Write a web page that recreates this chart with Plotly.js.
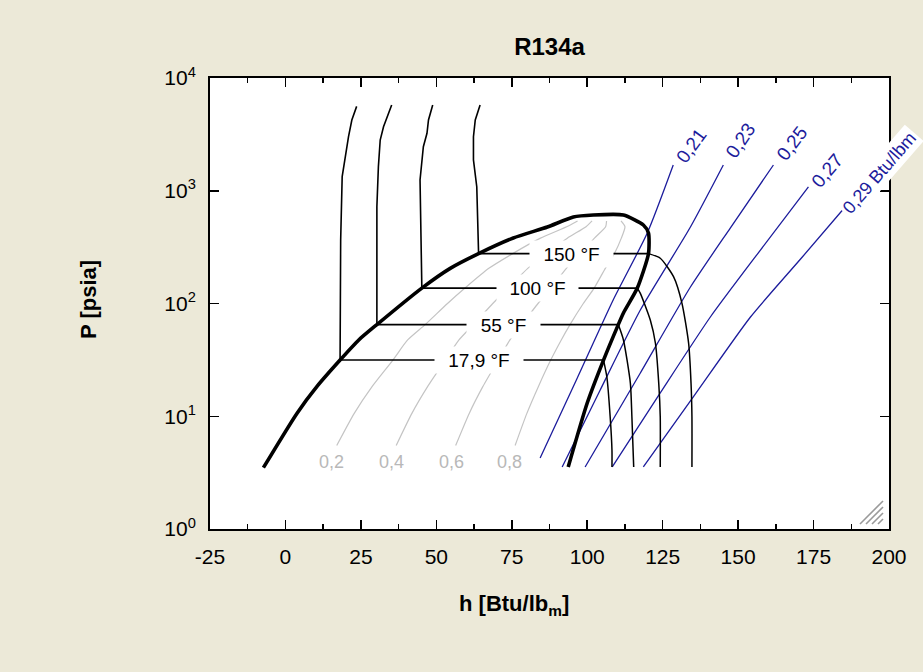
<!DOCTYPE html>
<html>
<head>
<meta charset="utf-8">
<script src="https://cdn.plot.ly/plotly-3.0.1.min.js"></script>
<style>
  html, body { margin: 0; padding: 0; background: #ece9d8; }
  #chart { width: 923px; height: 672px; }
</style>
</head>
<body>
<div id="chart"></div>
<script>
// R134a pressure-enthalpy chart: h in Btu/lbm, P in psia (log scale)

// Saturation dome: liquid line up to the critical region, then the vapour line back down
const domeH = [-7.3, 3.8, 10.4, 18.1, 24.3, 30.3, 45.2, 54.6, 64.0, 75.5, 86.8, 95.4, 102.0, 112.0, 118.6, 120.3, 120.3, 116.6, 112.0, 110.3, 105.4, 100.0, 93.7];
const domeP = [3.5, 10.6, 18.3, 31.5, 47.5, 65, 137, 205, 277, 381, 477, 585, 609, 609, 497, 422, 277, 137, 82.4, 65, 31.5, 13.1, 3.55];

// Isotherms, liquid side: compressed liquid down to saturation, then across the two-phase plateau
const t179LiqH = [23.6, 22.0, 20.9, 19.8, 18.8, 18.3, 18.1, 105.4];
const t179LiqP = [5600, 4243, 3017, 1875, 1333, 366, 31.5, 31.5];
const t55LiqH = [35.2, 34.1, 32.5, 31.4, 30.8, 30.3, 30.3, 110.3];
const t55LiqP = [5763, 4863, 3700, 2819, 1634, 722, 65, 65];
const t100LiqH = [48.8, 47.4, 46.9, 45.7, 44.6, 45.2, 116.6];
const t100LiqP = [5763, 4243, 3233, 2459, 1245, 137, 137];
const t150LiqH = [64.5, 62.9, 62.3, 62.3, 63.4, 64.0, 120.3];
const t150LiqP = [5763, 4243, 3017, 1875, 1086, 277, 277];
// Isotherms, superheated vapour side: from the saturated vapour point downwards
const t179VapH = [105.4, 106.5, 107.6, 108.2, 108.2];
const t179VapP = [31.5, 22.4, 9.9, 5.0, 3.55];
const t55VapH = [110.3, 112.0, 114.3, 114.8, 115.4];
const t55VapP = [65, 47.5, 19.6, 9.9, 3.55];
const t100VapH = [116.6, 117.6, 120.9, 122.6, 123.7, 124.2, 124.2];
const t100VapP = [137, 123, 71.4, 44.4, 19.6, 9.9, 3.55];
const t150VapH = [120.3, 124.2, 128.6, 131.4, 133.6, 134.4, 134.7, 134.7];
const t150VapP = [277, 252, 173, 100.4, 44.4, 19.6, 9.9, 3.55];
const isoLabels = ['17,9 °F', '55 °F', '100 °F', '150 °F'];
const isoLabelH = [64.2, 72.2, 83.5, 94.9];
const isoLabelP = [31.5, 65, 137, 277];
const isoLabelW = [88, 73, 81, 83];

// Constant-quality lines inside the dome
const qualP = [5.5, 10.6, 18.3, 31.5, 47.5, 65, 100, 137, 205, 277, 380, 480, 540];
const q02H = [17.0, 22.8, 28.7, 35.6, 40.5, 46.3, 53.7, 59.5, 67.4, 75.3, 84.5, 93.2, 96.8];
const q04H = [36.7, 41.9, 47.1, 53.0, 57.5, 62.3, 68.7, 73.8, 80.3, 86.5, 93.4, 99.6, 101.6];
const q06H = [56.4, 60.9, 65.4, 70.5, 74.4, 78.3, 83.7, 88.0, 93.1, 97.8, 102.4, 106.1, 106.4];
const q08H = [76.1, 80.0, 83.8, 87.9, 91.4, 94.3, 98.7, 102.3, 106.0, 109.0, 111.3, 112.5, 111.2];
const qualLabels = ['0,2', '0,4', '0,6', '0,8'];
const qualLabelH = [15.1, 35.3, 54.9, 74.2];
const qualLabelP = [3.93, 3.93, 3.93, 3.93];

// Constant-entropy lines (Btu/lbm-R)
const s021H = [84.4, 96.4, 108.6, 119.9, 128.5];
const s021P = [4.26, 20.97, 107.4, 422, 1692];
const s023H = [91.7, 104.3, 117.6, 134.2, 145.1];
const s023P = [3.55, 17.1, 87.5, 477, 1692];
const s025H = [99.3, 117.6, 134.2, 147.4, 161.7];
const s025P = [3.55, 24.2, 140, 467, 1692];
const s027H = [108.3, 124.2, 140.8, 157.4, 173.3];
const s027P = [3.55, 16.1, 75.9, 298, 1080];
const s029H = [118.6, 135.8, 154.1, 170.7, 184.9];
const s029P = [3.55, 15.7, 75.9, 248, 689];
const entLabels = ['0,21', '0,23', '0,25', '0,27', '0,29 Btu/lbm'];
const entLabelH = [134.6, 150.8, 167.9, 179.6, 196.8];
const entLabelP = [2500, 2790, 2600, 1500, 1437];
const entLabelAngle = [-54, -56, -53, -50, -49];
const entLabelSize = [19, 19, 19, 19, 18];

// Axis ticks
const xTickVals = [-25, 0, 25, 50, 75, 100, 125, 150, 175, 200];
const xTickText = ['-25', '0', '25', '50', '75', '100', '125', '150', '175', '200'];
const yTickVals = [1, 10, 100, 1000, 10000];
const yTickText = ['10<sup>0</sup>', '10<sup>1</sup>', '10<sup>2</sup>', '10<sup>3</sup>', '10<sup>4</sup>'];

const FONT = 'Liberation Sans, Arial, sans-serif';
const BLUE = '#1c1c9c';
const GREY = '#c4c4c4';

function line(x, y, color, width, shape) {
  return { x: x, y: y, type: 'scatter', mode: 'lines', hoverinfo: 'skip',
           line: { color: color, width: width, shape: shape || 'linear', smoothing: 0.6 } };
}

const traces = [
  line(q02H, qualP, GREY, 1.2, 'spline'),
  line(q04H, qualP, GREY, 1.2, 'spline'),
  line(q06H, qualP, GREY, 1.2, 'spline'),
  line(q08H, qualP, GREY, 1.2, 'spline'),
  line(s021H, s021P, BLUE, 1.3, 'spline'),
  line(s023H, s023P, BLUE, 1.3, 'spline'),
  line(s025H, s025P, BLUE, 1.3, 'spline'),
  line(s027H, s027P, BLUE, 1.3, 'spline'),
  line(s029H, s029P, BLUE, 1.3, 'spline'),
  line(t179LiqH, t179LiqP, '#000', 1.6),
  line(t55LiqH, t55LiqP, '#000', 1.6),
  line(t100LiqH, t100LiqP, '#000', 1.6),
  line(t150LiqH, t150LiqP, '#000', 1.6),
  line(t179VapH, t179VapP, '#000', 1.5, 'spline'),
  line(t55VapH, t55VapP, '#000', 1.5, 'spline'),
  line(t100VapH, t100VapP, '#000', 1.5, 'spline'),
  line(t150VapH, t150VapP, '#000', 1.5, 'spline'),
  line(domeH, domeP, '#000', 3.6, 'spline')
];

const M = { l: 210, r: 34, t: 78, b: 143 };
const W = 923, H = 672;
const plotW = W - M.l - M.r, plotH = H - M.t - M.b;
const px2paperX = px => (px - M.l) / plotW;
const px2paperY = py => (H - M.b - py) / plotH;

const annotations = [];
isoLabels.forEach((t, i) => annotations.push({
  x: isoLabelH[i], y: Math.log10(isoLabelP[i]), xref: 'x', yref: 'y', text: t, showarrow: false,
  bgcolor: '#ffffff', width: isoLabelW[i], height: 26, borderpad: 0,
  font: { family: FONT, size: 19, color: '#000' }, xanchor: 'center', yanchor: 'middle'
}));
qualLabels.forEach((t, i) => annotations.push({
  x: qualLabelH[i], y: Math.log10(qualLabelP[i]), xref: 'x', yref: 'y', text: t, showarrow: false,
  bgcolor: '#ffffff', font: { family: FONT, size: 18, color: '#b8b8b8' }, xanchor: 'center', yanchor: 'middle'
}));
entLabels.forEach((t, i) => annotations.push({
  x: entLabelH[i], y: Math.log10(entLabelP[i]), xref: 'x', yref: 'y', text: t, showarrow: false,
  textangle: entLabelAngle[i], bgcolor: '#ffffff', borderpad: 2,
  font: { family: FONT, size: entLabelSize[i], color: BLUE }, xanchor: 'center', yanchor: 'middle'
}));
annotations.push({
  x: px2paperX(514), y: px2paperY(605), xref: 'paper', yref: 'paper', showarrow: false,
  text: '<b>h [Btu/lb<sub>m</sub>]</b>', font: { family: FONT, size: 22, color: '#000' },
  xanchor: 'center', yanchor: 'middle'
});
annotations.push({
  x: px2paperX(88), y: px2paperY(300), xref: 'paper', yref: 'paper', showarrow: false,
  text: '<b>P [psia]</b>', textangle: -90, font: { family: FONT, size: 22, color: '#000' },
  xanchor: 'center', yanchor: 'middle'
});

// window size grip in the lower right corner of the plot frame
const shapes = [];
[[501, 860], [507, 866], [513, 872], [519, 878]].forEach(([yTop, xLeft]) => {
  shapes.push({ type: 'line', xref: 'paper', yref: 'paper',
    x0: px2paperX(883), y0: px2paperY(yTop), x1: px2paperX(xLeft), y1: px2paperY(524),
    line: { color: '#9a9a9a', width: 1.6 } });
});

const axisCommon = {
  showline: true, linecolor: '#000', linewidth: 2, mirror: 'ticks',
  ticks: 'inside', ticklen: 9, tickwidth: 1.5, tickcolor: '#000',
  showgrid: false, zeroline: false,
  tickfont: { family: FONT, size: 21, color: '#000' }
};

const layout = {
  width: W, height: H, margin: M,
  paper_bgcolor: '#ece9d8', plot_bgcolor: '#ffffff', showlegend: false,
  title: { text: '<b>R134a</b>', font: { family: FONT, size: 24, color: '#000' },
           x: 0.5, xref: 'paper', xanchor: 'center', y: 1 - 47 / H, yref: 'container', yanchor: 'middle' },
  xaxis: Object.assign({}, axisCommon, {
    range: [-25, 200], tickmode: 'array', tickvals: xTickVals, ticktext: xTickText,
    ticklabelstandoff: 8,
    minor: { tickmode: 'linear', tick0: 0, dtick: 12.5, ticks: 'inside', ticklen: 5, tickwidth: 1.5, tickcolor: '#000', showgrid: false }
  }),
  yaxis: Object.assign({}, axisCommon, {
    type: 'log', range: [0, 4], tickmode: 'array', tickvals: yTickVals, ticktext: yTickText,
    ticklabelstandoff: 8
  }),
  annotations: annotations,
  shapes: shapes
};

Plotly.newPlot('chart', traces, layout, { displayModeBar: false, staticPlot: true });
</script>
</body>
</html>
